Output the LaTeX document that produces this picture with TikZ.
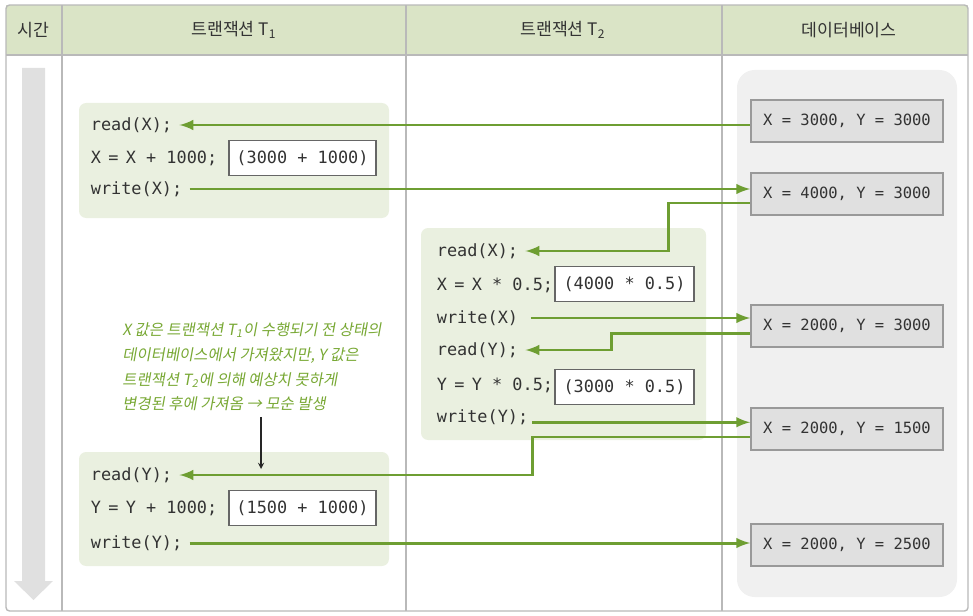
\documentclass[tikz,border=0pt]{standalone}
\usepackage{fontspec}
\setmainfont{Noto Sans CJK KR}
\newfontfamily\codefont{DejaVu Sans Mono}
\newfontfamily\notefont[FakeSlant=0.18]{Noto Sans CJK KR}
\usetikzlibrary{positioning}
\definecolor{hdrgreen}{RGB}{218,228,198}
\definecolor{blockgreen}{RGB}{234,240,224}
\definecolor{flowgreen}{RGB}{110,158,50}
\definecolor{notegreen}{RGB}{120,168,52}
\definecolor{dbpanel}{RGB}{240,240,240}
\definecolor{dbfill}{RGB}{224,224,224}
\definecolor{framegray}{RGB}{185,185,185}
\newcommand{\eqn}{\kern-1.6pt{} = \kern-1.6pt{}}

\begin{document}
\begin{tikzpicture}[x=0.02cm,y=-0.02cm,
  frame/.style={draw=framegray,line width=0.8pt},
  hdr/.style={font=\fontsize{9.8}{11}\selectfont,text=black!80},
  code/.style={font=\codefont\fontsize{9.6}{12}\selectfont,text=black!80,inner sep=2pt,anchor=west},
  valbox/.style={draw=black!60,fill=white,line width=0.6pt,font=\codefont\fontsize{9.6}{12}\selectfont,text=black!80,minimum height=0.7cm},
  dbbox/.style={draw=black!40,fill=dbfill,line width=1pt,font=\codefont\fontsize{8.8}{11}\selectfont,text=black!80,minimum width=3.84cm,minimum height=0.84cm},
  flow/.style={draw=flowgreen,line width=1.7pt},
  note/.style={font=\notefont\fontsize{8.8}{14.2}\selectfont,text=notegreen,align=left,inner sep=0pt}]
\useasboundingbox (0,0) rectangle (973,615);

% header and frame
\fill[hdrgreen] (6,5) rectangle (968,55);
\draw[frame] (6,55) -- (968,55);
\draw[frame] (62,5) -- (62,611);
\draw[frame] (406,5) -- (406,611);
\draw[frame] (722,5) -- (722,611);
\draw[frame,rounded corners=2pt] (6,5) rectangle (968,611);
\node[hdr] (h0) at (33,30) {시간};
\node[hdr] (h1) at (234,30) {트랜잭션 T\textsubscript{1}};
\node[hdr] (h2) at (563,30) {트랜잭션 T\textsubscript{2}};
\node[hdr] (h3) at (849,30) {데이터베이스};

% time arrow
\fill[black!12] (22,68) -- (45,68) -- (45,581) -- (53,581) -- (33.5,600) -- (14,581) -- (22,581) -- cycle;

% panels
\fill[blockgreen,rounded corners=4pt] (79,103) rectangle (389,218);
\fill[blockgreen,rounded corners=4pt] (421,228) rectangle (706,440);
\fill[blockgreen,rounded corners=4pt] (79,452) rectangle (389,566);
\fill[dbpanel,rounded corners=10pt] (737,70) rectangle (957,597);

% transaction T1
\node[code] (rx1) at (87,125) {read(X);};
\node[code] (ax1) at (87,158) {X\eqn X + 1000;};
\node[code] (wx1) at (87,189) {write(X);};
\node[valbox,minimum width=2.94cm] (cx1) at (302.5,158) {(3000 + 1000)};
\node[code] (ry1) at (87,475) {read(Y);};
\node[code] (ay1) at (87,508) {Y\eqn Y + 1000;};
\node[code] (wy1) at (87,543) {write(Y);};
\node[valbox,minimum width=2.94cm] (cy1) at (302.5,508) {(1500 + 1000)};

% transaction T2
\node[code] (rx2) at (433,251) {read(X);};
\node[code] (ax2) at (433,285) {X\eqn X * 0.5;};
\node[code] (wx2) at (433,318) {write(X)};
\node[code] (ry2) at (433,350) {read(Y);};
\node[code] (ay2) at (433,385) {Y\eqn Y * 0.5;};
\node[code] (wy2) at (433,417) {write(Y);};
\node[valbox,minimum width=2.78cm] (cx2) at (624.5,284) {(4000 * 0.5)};
\node[valbox,minimum width=2.78cm] (cy2) at (624.5,387) {(3000 * 0.5)};

% database states
\node[dbbox] (db1) at (847,121) {X = 3000, Y = 3000};
\node[dbbox] (db2) at (847,194) {X = 4000, Y = 3000};
\node[dbbox] (db3) at (847,326) {X = 2000, Y = 3000};
\node[dbbox] (db4) at (847,429) {X = 2000, Y = 1500};
\node[dbbox] (db5) at (847,545) {X = 2000, Y = 2500};

% reads and writes
\draw[flow,-latex,shorten >=2pt] (db1.west |- rx1.east) -- (rx1.east);
\draw[flow,-latex,shorten <=2pt] (wx1.east) -- (wx1.east -| db2.west);
\draw[flow,-latex,shorten >=2pt] ([yshift=-0.18cm]db2.west) -- ++(-82,0) |- (rx2.east);
\draw[flow,-latex,shorten <=5pt] (wx2.east) -- (wx2.east -| db3.west);
\draw[flow,-latex,shorten >=2pt] ([yshift=-0.15cm]db3.west) -- ++(-139,0) |- (ry2.east);
\draw[flow,-latex] ([yshift=-3pt]wy2.east) -- ([yshift=-3pt]wy2.east -| db4.west);
\draw[flow,-latex,shorten >=2pt] ([yshift=-0.16cm]db4.west) -- ++(-218,0) |- (ry1.east);
\draw[flow,-latex,shorten <=2pt] (wy1.east) -- (wy1.east -| db5.west);

% note
\node[note,anchor=north west] (note) at (122,322) {X 값은 트랜잭션 T\textsubscript{1}이 수행되기 전 상태의\\데이터베이스에서 가져왔지만, Y 값은\\트랜잭션 T\textsubscript{2}에 의해 예상치 못하게\\변경된 후에 가져옴 → 모순 발생};
\coordinate (clash) at (261,469);
\draw[-stealth,black!85,line width=0.6pt,shorten <=3pt] (note.south -| clash) -- (clash);

\end{tikzpicture}
\end{document}
